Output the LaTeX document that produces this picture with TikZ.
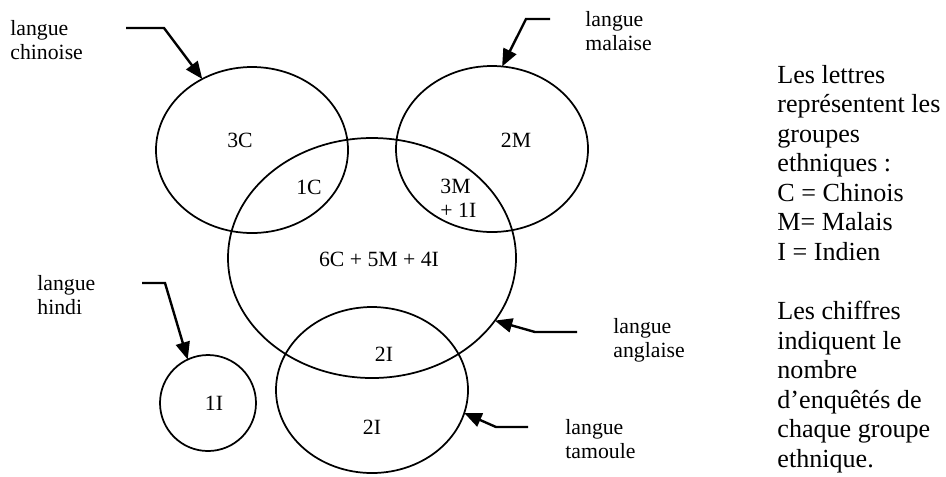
\documentclass[tikz,border=0pt]{standalone}
\usepackage{fontspec}
\setmainfont{Liberation Serif}
\usetikzlibrary{arrows.meta, shapes.geometric}
\newlength{\px}
\setlength{\px}{0.46pt}

\begin{document}
\begin{tikzpicture}[
  x=0.46pt, y=-0.46pt,
  font=\fontsize{10}{11}\selectfont,
  lang/.style={draw, ellipse, line width=0.8pt, inner sep=0pt, outer sep=0pt},
  langoval/.style={lang, minimum width=192\px, minimum height=166\px},
  tag/.style={align=left, anchor=west, inner sep=0pt},
  count/.style={inner sep=0pt},
  pointer/.style={-{Triangle[length=8pt, width=6.5pt]}, line width=1.1pt}
]
\useasboundingbox (0,0) rectangle (946,476);
\node[langoval] (chin) at (252,150) {};
\node[langoval] (mal) at (492,149) {};
\node[lang, minimum width=288\px, minimum height=240\px] (eng) at (372,258) {};
\node[langoval] (tam) at (372,390) {};
\node[lang, minimum width=96\px, minimum height=96\px] (hin) at (208,403) {};
\node[count] (c3) at (240,140) {3C};
\node[count] (c1) at (309,187) {1C};
\node[count] (m2) at (516,140) {2M};
\node[count, align=left, anchor=west] (m3) at (440,198) {3M\\+ 1I};
\node[count] (all) at (379,259) {6C + 5M + 4I};
\node[count] (i2a) at (384,354) {2I};
\node[count] (i2b) at (372,427) {2I};
\node[count] (i1) at (214,403) {1I};
\node[tag] (chinL) at (10,40) {langue\\chinoise};
\node[tag] (malL) at (585,31) {langue\\malaise};
\node[tag] (hinL) at (37,295) {langue\\hindi};
\node[tag] (engL) at (613,340) {langue\\anglaise};
\node[tag] (tamL) at (565,439) {langue\\tamoule};
\coordinate (chinA) at (126,28);
\coordinate (malA) at (550,19);
\coordinate (hinA) at (142,283);
\coordinate (engA) at (577,332);
\coordinate (tamA) at (528,427);
\draw[pointer] (chinA) -- ++(38,0) -- (chin.125);
\draw[pointer] (malA) -- ++(-24,0) -- (mal.83);
\draw[pointer] (hinA) -- ++(23,0) -- (hin.115);
\draw[pointer] (engA) -- ++(-42,0) -- (eng.-27);
\draw[pointer] (tamA) -- ++(-32,0) -- (tam.-14);
\node[tag, font=\fontsize{12}{13.6}\selectfont] (legend) at (777,269)
  {Les lettres\\représentent les\\groupes\\ethniques :\\C = Chinois\\M= Malais\\I = Indien\\[13.6pt]Les chiffres\\indiquent le\\nombre\\d’enquêtés de\\chaque groupe\\ethnique.};
\end{tikzpicture}
\end{document}
